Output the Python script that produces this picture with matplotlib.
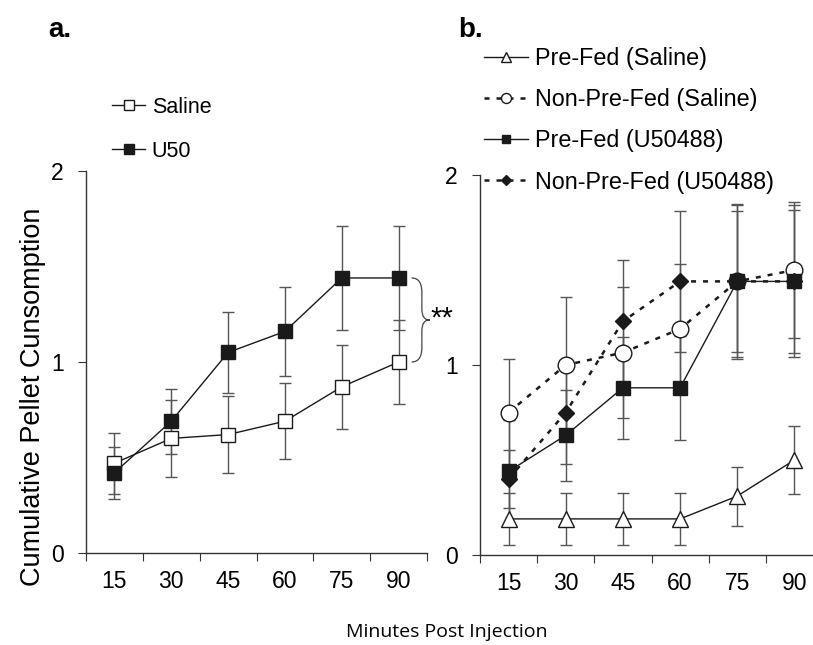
import numpy as np
import matplotlib
matplotlib.use('Agg')
import matplotlib.pyplot as plt
from matplotlib.path import Path
from matplotlib.patches import PathPatch

plt.rcParams['font.family'] = ['Liberation Sans', 'DejaVu Sans']

# Data
minutes = ['15', '30', '45', '60', '75', '90']

# panel a
saline = [0.47, 0.60, 0.62, 0.69, 0.87, 1.00]
saline_err = [0.16, 0.20, 0.20, 0.20, 0.22, 0.22]
u50 = [0.42, 0.69, 1.05, 1.16, 1.44, 1.44]
u50_err = [0.135, 0.17, 0.21, 0.235, 0.27, 0.27]

# panel b
prefed_sal = [0.19, 0.19, 0.19, 0.19, 0.31, 0.50]
prefed_sal_err = [0.135, 0.135, 0.135, 0.135, 0.155, 0.18]
nonpre_sal = [0.75, 1.00, 1.065, 1.19, 1.44, 1.50]
nonpre_sal_err = [0.28, 0.356, 0.345, 0.34, 0.41, 0.36]
prefed_u50 = [0.44, 0.63, 0.88, 0.88, 1.44, 1.44]
prefed_u50_err = [0.27, 0.24, 0.27, 0.275, 0.40, 0.40]
nonpre_u50 = [0.40, 0.75, 1.23, 1.44, 1.44, 1.44]
nonpre_u50_err = [0.155, 0.27, 0.325, 0.37, 0.37, 0.375]

W, H = 813, 645
fig = plt.figure(figsize=(W / 100, H / 100), dpi=100)

ax1 = fig.add_axes([86 / W, 1 - 553 / H, 341 / W, 382 / H])
ax2 = fig.add_axes([480 / W, 1 - 555 / H, 343 / W, 380 / H])

x = np.arange(len(minutes)) + 0.5
line_col = '#1a1a1a'
err_col = '#555555'
tick_fs = 16.5


def style_axis(ax):
    ax.set_xlim(0, len(minutes))
    ax.set_ylim(0, 2)
    for s in ['top', 'right']:
        ax.spines[s].set_visible(False)
    for s in ['left', 'bottom']:
        ax.spines[s].set_color('#333333')
        ax.spines[s].set_linewidth(1.0)
    ax.set_xticks(np.arange(len(minutes) + 1))
    ax.set_xticklabels([])
    ax.set_xticks(x, minor=True)
    ax.set_xticklabels(minutes, minor=True, fontsize=tick_fs)
    ax.tick_params(axis='x', which='major', direction='out', length=6, color='#333333')
    ax.tick_params(axis='x', which='minor', length=0, pad=12)
    ax.set_yticks([0, 1, 2])
    ax.set_yticklabels(['0', '1', '2'], fontsize=tick_fs)
    ax.tick_params(axis='y', direction='out', length=6, color='#333333', pad=10)
    ax.patch.set_alpha(0)


def draw(ax, vals, errs, marker, ms, fill, dashed, label):
    ax.errorbar(x, vals, yerr=errs, fmt='none', ecolor=err_col, elinewidth=1.0,
                capsize=4, capthick=1.0, zorder=1, clip_on=False)
    if dashed:
        ls = dict(linestyle=(0, (2, 2.8)), linewidth=1.8)
    else:
        ls = dict(linestyle='-', linewidth=1.0)
    ax.plot(x, vals, color=line_col, marker=marker, markersize=ms,
            markerfacecolor=fill, markeredgecolor=line_col, markeredgewidth=1.0,
            zorder=3, clip_on=False, label=label, **ls)


# panel a
style_axis(ax1)
draw(ax1, saline, saline_err, 's', 10, 'white', False, 'Saline')
draw(ax1, u50, u50_err, 's', 10, line_col, False, 'U50')
ax1.legend(loc='upper left', bbox_to_anchor=(112 / W, 1 - 97 / H),
           bbox_transform=fig.transFigure, frameon=False, fontsize=15.5,
           handlelength=1.55, handletextpad=0.3, labelspacing=1.05,
           borderpad=0, borderaxespad=0, markerscale=0.65, numpoints=1)

# significance brace between the two series at 90 min
verts = [(5.73, u50[-1]), (5.86, u50[-1]), (5.91, 1.41), (5.91, 1.36),
         (5.91, 1.28),
         (5.91, 1.24), (5.95, 1.22), (6.05, 1.22),
         (5.95, 1.22), (5.91, 1.20), (5.91, 1.16),
         (5.91, 1.08),
         (5.91, 1.03), (5.86, saline[-1]), (5.73, saline[-1])]
codes = [Path.MOVETO, Path.CURVE4, Path.CURVE4, Path.CURVE4,
         Path.LINETO,
         Path.CURVE4, Path.CURVE4, Path.CURVE4,
         Path.CURVE4, Path.CURVE4, Path.CURVE4,
         Path.LINETO,
         Path.CURVE4, Path.CURVE4, Path.CURVE4]
ax1.add_patch(PathPatch(Path(verts, codes), facecolor='none', edgecolor='#444444',
                        linewidth=0.9, clip_on=False))
ax1.text(6.06, 1.30, '**', fontsize=21, ha='left', va='top', clip_on=False)

# panel b
style_axis(ax2)
draw(ax2, prefed_sal, prefed_sal_err, '^', 12, 'white', False, 'Pre-Fed (Saline)')
draw(ax2, nonpre_sal, nonpre_sal_err, 'o', 12, 'white', True, 'Non-Pre-Fed (Saline)')
draw(ax2, prefed_u50, prefed_u50_err, 's', 10, line_col, False, 'Pre-Fed (U50488)')
draw(ax2, nonpre_u50, nonpre_u50_err, 'D', 8, line_col, True, 'Non-Pre-Fed (U50488)')
ax2.legend(loc='upper left', bbox_to_anchor=(484 / W, 1 - 47 / H),
           bbox_transform=fig.transFigure, frameon=False, fontsize=16.8,
           handlelength=1.9, handletextpad=0.3, labelspacing=0.78,
           borderpad=0, borderaxespad=0, markerscale=0.6, numpoints=1)

# panel letters and shared labels
fig.text(48 / W, 1 - 30 / H, 'a.', fontsize=20, fontweight='bold', va='center', ha='left')
fig.text(458 / W, 1 - 30 / H, 'b.', fontsize=20, fontweight='bold', va='center', ha='left')
fig.text(33 / W, 1 - 397 / H, 'Cumulative Pellet Cunsomption', rotation=90,
         fontsize=19.5, ha='center', va='center')
fig.text(447 / W, 1 - 632 / H, 'Minutes Post Injection', fontsize=14,
         family=['Open Sans', 'DejaVu Sans'], ha='center', va='center')

fig.savefig('out.png', dpi=100)
plt.close(fig)
